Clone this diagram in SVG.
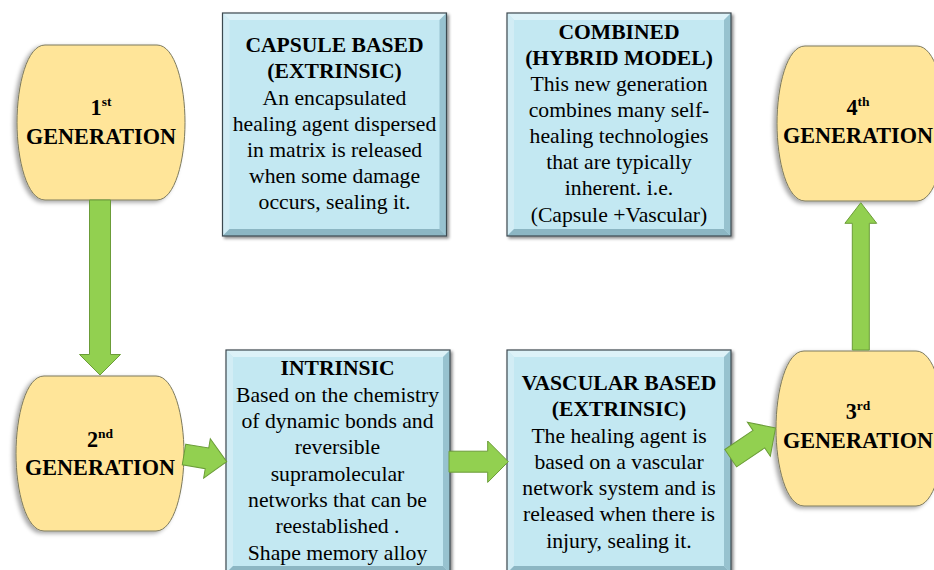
<svg xmlns="http://www.w3.org/2000/svg" xmlns:xlink="http://www.w3.org/1999/xlink" width="934" height="570" viewBox="0 0 934 570">
<style>
text { font-family: "Liberation Serif", "Times New Roman", serif; fill: #000; text-anchor: middle; }
.gt { font-size: 22.2px; font-weight: bold; }
.bt { font-size: 21.7px; }
.bh { font-size: 21.6px; font-weight: bold; }
.genshape { fill: #FFE599; stroke: #7D7A5E; stroke-width: 1; }
.arrow { fill: #92D050; stroke: #6B9C38; stroke-width: 1; }
</style>
<defs>
  <filter id="shL" x="-20%" y="-20%" width="140%" height="140%">
    <feDropShadow dx="-3" dy="2" stdDeviation="2" flood-color="#000" flood-opacity="0.35"/>
  </filter>
  <filter id="shR" x="-10%" y="-10%" width="125%" height="125%">
    <feDropShadow dx="2" dy="2" stdDeviation="1.5" flood-color="#000" flood-opacity="0.45"/>
  </filter>
  <path id="gen" class="genshape" d="M28,0 H140 C158,0 168,40 168,77.5 C168,115 158,155 140,155 H28 C10,155 0,115 0,77.5 C0,40 10,0 28,0 Z"/>
  <g id="box">
    <rect x="0" y="0" width="224" height="223" fill="#C3E8F2"/>
    <polygon points="0,0 224,0 217,7 7,7" fill="#DDF2F8"/>
    <polygon points="0,0 7,7 7,216 0,223" fill="#D2EDF5"/>
    <polygon points="224,0 224,223 217,216 217,7" fill="#97C2CF"/>
    <polygon points="0,223 224,223 217,216 7,216" fill="#8CB6C3"/>
    <rect x="0" y="0" width="224" height="223" fill="none" stroke="#3E4A50" stroke-width="1.2"/>
  </g>
</defs>
<rect width="934" height="570" fill="#FFFFFF"/>

<g id="gen1">
  <use xlink:href="#gen" href="#gen" x="17" y="45" filter="url(#shL)"/>
  <text class="gt" x="101" y="115">1<tspan font-size="13.5" dy="-9">st</tspan></text>
  <text class="gt" x="101" y="144">GENERATION</text>
</g>
<g id="gen2">
  <use xlink:href="#gen" href="#gen" x="16" y="376" filter="url(#shL)"/>
  <text class="gt" x="100" y="447">2<tspan font-size="13.5" dy="-9">nd</tspan></text>
  <text class="gt" x="100" y="474.5">GENERATION</text>
</g>
<g id="gen3">
  <use xlink:href="#gen" href="#gen" x="776" y="351" filter="url(#shL)"/>
  <text class="gt" x="858" y="419">3<tspan font-size="13.5" dy="-9">rd</tspan></text>
  <text class="gt" x="858" y="448">GENERATION</text>
</g>
<g id="gen4">
  <use xlink:href="#gen" href="#gen" x="777" y="46" filter="url(#shL)"/>
  <text class="gt" x="858" y="115">4<tspan font-size="13.5" dy="-9">th</tspan></text>
  <text class="gt" x="858" y="143">GENERATION</text>
</g>

<g id="capsule">
  <use xlink:href="#box" href="#box" x="222.5" y="13" filter="url(#shR)"/>
  <text class="bh" x="334.5" y="52">CAPSULE BASED</text>
  <text class="bh" x="334.5" y="78">(EXTRINSIC)</text>
  <text class="bt" x="334.5" y="105">An encapsulated</text>
  <text class="bt" x="334.5" y="131">healing agent dispersed</text>
  <text class="bt" x="334.5" y="157">in matrix is released</text>
  <text class="bt" x="334.5" y="183">when some damage</text>
  <text class="bt" x="334.5" y="209">occurs, sealing it.</text>
</g>
<g id="combined">
  <use xlink:href="#box" href="#box" x="507" y="13" filter="url(#shR)"/>
  <text class="bh" x="619" y="39">COMBINED</text>
  <text class="bh" x="619" y="65">(HYBRID MODEL)</text>
  <text class="bt" x="619" y="91">This new generation</text>
  <text class="bt" x="619" y="117">combines many self-</text>
  <text class="bt" x="619" y="143">healing technologies</text>
  <text class="bt" x="619" y="169">that are typically</text>
  <text class="bt" x="619" y="195">inherent. i.e.</text>
  <text class="bt" x="619" y="222">(Capsule +Vascular)</text>
</g>
<g id="intrinsic">
  <use xlink:href="#box" href="#box" x="226" y="350" filter="url(#shR)"/>
  <text class="bh" x="337.5" y="375">INTRINSIC</text>
  <text class="bt" x="337.5" y="402">Based on the chemistry</text>
  <text class="bt" x="337.5" y="428">of dynamic bonds and</text>
  <text class="bt" x="337.5" y="454">reversible</text>
  <text class="bt" x="337.5" y="481">supramolecular</text>
  <text class="bt" x="337.5" y="507">networks that can be</text>
  <text class="bt" x="337.5" y="533">reestablished .</text>
  <text class="bt" x="337.5" y="560">Shape memory alloy</text>
</g>
<g id="vascular">
  <use xlink:href="#box" href="#box" x="507" y="350" filter="url(#shR)"/>
  <text class="bh" x="619" y="390">VASCULAR BASED</text>
  <text class="bh" x="619" y="416">(EXTRINSIC)</text>
  <text class="bt" x="619" y="443">The healing agent is</text>
  <text class="bt" x="619" y="469">based on a vascular</text>
  <text class="bt" x="619" y="495">network system and is</text>
  <text class="bt" x="619" y="521">released when there is</text>
  <text class="bt" x="619" y="548">injury, sealing it.</text>
</g>

<g id="connectors">
  <polygon class="arrow" points="89.5,200 110.5,200 110.5,354.5 120.5,354.5 100,375 79.5,354.5 89.5,354.5"/>
  <polygon class="arrow" transform="translate(184,454.5) rotate(9.6)" points="0,-10.5 23.3,-10.5 23.3,-20 43.3,0 23.3,20 23.3,10.5 0,10.5"/>
  <polygon class="arrow" points="449,451.2 487.7,451.2 487.7,441 508.3,461.7 487.7,482.4 487.7,472.2 449,472.2"/>
  <polygon class="arrow" transform="translate(730.7,458.2) rotate(-34)" points="0,-10.5 34,-10.5 34,-20.5 54,0 34,20.5 34,10.5 0,10.5"/>
  <polygon class="arrow" points="852.3,350 869.3,350 869.3,223.3 876.7,223.3 860.8,202.7 844.9,223.3 852.3,223.3"/>
</g>
</svg>
